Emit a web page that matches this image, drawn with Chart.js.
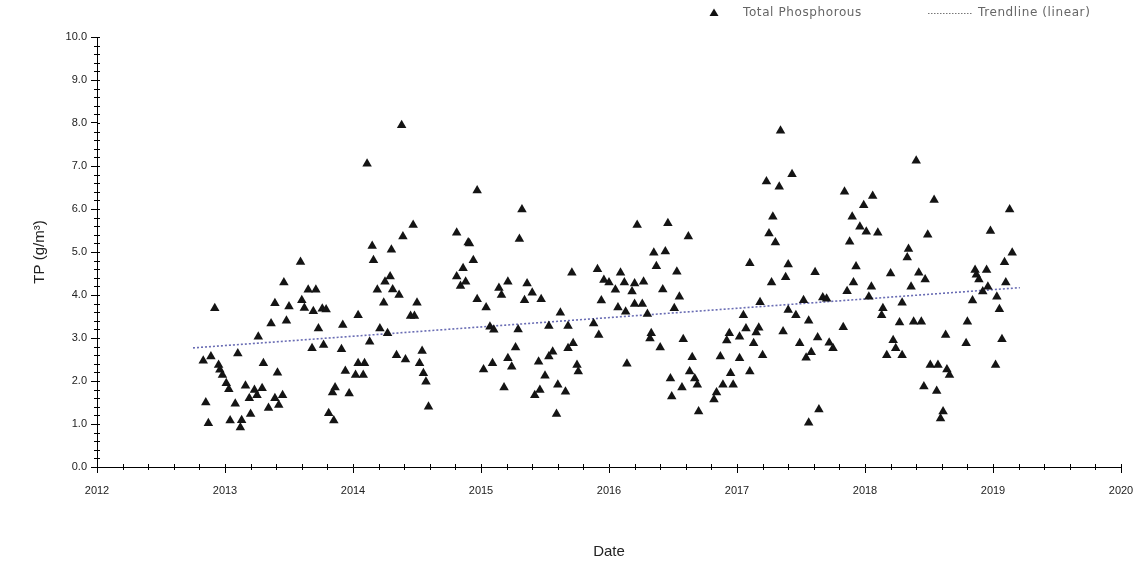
<!DOCTYPE html>
<html>
<head>
<meta charset="utf-8">
<script src="https://cdn.jsdelivr.net/npm/chart.js@4.4.0/dist/chart.umd.min.js"></script>
<style>
  html, body { margin: 0; padding: 0; background: #fff; }
  #wrap { width: 1139px; height: 572px; }
</style>
</head>
<body>
<div id="wrap"><canvas id="tpChart" width="1139" height="572"></canvas></div>
<script>
// sample dates (decimal years) and total phosphorous values
var tpDates = [
  2013.59, 2013.46, 2013.65, 2013.71, 2012.92, 2013.39, 2013.50, 2013.60, 2013.62, 2013.69,
  2013.76, 2013.79, 2013.36, 2013.48, 2013.73, 2013.92, 2014.04, 2013.26, 2013.10, 2013.68,
  2013.77, 2013.91, 2012.83, 2012.89, 2012.95, 2012.96, 2012.98, 2013.01, 2013.03, 2013.30,
  2013.41, 2013.94, 2014.02, 2014.04, 2013.16, 2013.23, 2013.29, 2013.19, 2013.25, 2013.39,
  2013.45, 2013.42, 2013.34, 2013.86, 2013.84, 2013.97, 2012.85, 2013.08, 2012.87, 2013.04,
  2013.13, 2013.20, 2013.12, 2013.81, 2013.85,
  2014.38, 2014.11, 2014.97, 2015.32, 2015.30, 2014.47, 2014.39, 2014.15, 2014.30, 2014.16,
  2014.81, 2014.90, 2014.91, 2014.94, 2014.86, 2014.81, 2014.88, 2014.84, 2014.29, 2014.25,
  2014.19, 2014.31, 2014.36, 2014.24, 2014.50, 2014.45, 2014.48, 2014.21, 2014.27, 2014.13,
  2014.97, 2015.04, 2015.14, 2015.16, 2015.21, 2015.36, 2015.34, 2015.07, 2015.10, 2015.29,
  2015.27, 2014.34, 2014.41, 2014.54, 2014.52, 2014.55, 2014.57, 2014.09, 2014.08, 2014.59,
  2015.21, 2015.24, 2015.09, 2015.02, 2015.18,
  2016.22, 2016.46, 2016.62, 2016.35, 2016.44, 2016.37, 2016.53, 2015.71, 2015.91, 2016.09,
  2015.96, 2016.00, 2016.05, 2016.12, 2016.20, 2016.27, 2016.18, 2016.42, 2016.55, 2015.40,
  2015.47, 2015.94, 2016.07, 2016.13, 2016.20, 2016.26, 2016.30, 2016.51, 2015.62, 2015.53,
  2015.68, 2015.88, 2015.92, 2016.33, 2016.32, 2016.40, 2016.58, 2015.72, 2015.68, 2015.56,
  2015.53, 2015.45, 2015.75, 2015.76, 2016.14, 2016.65, 2015.50, 2016.63, 2016.67, 2016.69,
  2016.48, 2016.57, 2016.49, 2015.60, 2015.66, 2015.46, 2015.42, 2015.59, 2016.70,
  2017.34, 2017.43, 2017.23, 2017.33, 2017.28, 2017.25, 2017.30, 2017.84, 2017.99, 2017.90,
  2017.96, 2018.01, 2017.88, 2017.10, 2017.40, 2017.38, 2017.27, 2017.61, 2017.93, 2017.91,
  2017.86, 2017.18, 2017.52, 2017.67, 2017.70, 2017.05, 2017.40, 2017.46, 2017.56, 2017.07,
  2017.17, 2017.15, 2017.02, 2016.94, 2016.92, 2017.13, 2017.36, 2017.83, 2017.49, 2017.63,
  2017.72, 2017.75, 2017.20, 2017.58, 2017.54, 2016.87, 2017.02, 2016.95, 2017.10, 2016.89,
  2016.97, 2016.84, 2016.82, 2017.64, 2017.56,
  2018.40, 2018.06, 2018.54, 2019.13, 2018.10, 2018.49, 2018.98, 2018.34, 2018.33, 2019.15,
  2019.09, 2018.20, 2018.42, 2018.47, 2018.86, 2018.95, 2018.89, 2018.87, 2018.36, 2018.05,
  2018.03, 2019.10, 2018.96, 2018.92, 2019.03, 2018.84, 2018.29, 2019.05, 2018.14, 2018.13,
  2018.27, 2018.38, 2018.44, 2018.80, 2018.63, 2018.79, 2019.07, 2018.22, 2018.24, 2018.17,
  2018.29, 2018.51, 2018.57, 2018.64, 2018.66, 2019.02, 2018.46, 2018.56, 2018.61, 2018.59
];
var tpValues = [
  4.77, 4.29, 4.12, 4.12, 3.69, 3.81, 3.73, 3.88, 3.70, 3.62,
  3.68, 3.66, 3.34, 3.40, 3.22, 3.30, 3.53, 3.03, 2.64, 2.76,
  2.84, 2.74, 2.47, 2.57, 2.37, 2.26, 2.14, 1.95, 1.81, 2.41,
  2.19, 2.23, 2.14, 2.41, 1.89, 1.79, 1.83, 1.60, 1.67, 1.60,
  1.67, 1.44, 1.37, 1.85, 1.73, 1.71, 1.50, 1.47, 1.02, 1.08,
  1.09, 1.23, 0.92, 1.25, 1.08,
  7.95, 7.05, 6.43, 5.99, 5.30, 5.63, 5.36, 5.14, 5.05, 4.81,
  5.45, 5.22, 5.20, 4.81, 4.62, 4.43, 4.31, 4.21, 4.43, 4.31,
  4.12, 4.13, 4.00, 3.82, 3.82, 3.51, 3.51, 3.22, 3.11, 2.91,
  3.90, 3.71, 4.16, 4.00, 4.31, 4.27, 3.88, 3.26, 3.19, 3.20,
  2.78, 2.60, 2.50, 2.70, 2.41, 2.18, 1.98, 2.41, 2.14, 1.40,
  2.53, 2.33, 2.41, 2.27, 1.85,
  5.63, 5.67, 5.36, 4.98, 5.01, 4.67, 4.54, 4.52, 4.60, 4.52,
  4.35, 4.29, 4.12, 4.29, 4.27, 4.31, 4.08, 4.13, 3.96, 4.05,
  3.90, 3.87, 3.71, 3.61, 3.79, 3.79, 3.56, 3.69, 3.59, 3.28,
  3.28, 3.34, 3.07, 3.11, 2.99, 2.78, 2.97, 2.88, 2.76, 2.68,
  2.57, 2.45, 2.37, 2.22, 2.40, 2.55, 2.12, 2.22, 2.06, 1.91,
  2.06, 1.85, 1.64, 1.91, 1.75, 1.79, 1.67, 1.23, 1.29,
  7.82, 6.81, 6.64, 6.52, 5.82, 5.43, 5.22, 6.40, 6.09, 5.82,
  5.59, 5.47, 5.24, 4.74, 4.71, 4.41, 4.29, 4.53, 4.66, 4.29,
  4.09, 3.83, 3.88, 3.94, 3.91, 3.53, 3.65, 3.53, 3.40, 3.22,
  3.24, 3.13, 3.03, 3.11, 2.94, 2.88, 3.15, 3.25, 2.88, 3.01,
  2.89, 2.76, 2.60, 2.67, 2.54, 2.57, 2.53, 2.18, 2.22, 1.91,
  1.91, 1.73, 1.57, 1.34, 1.03,
  7.12, 6.30, 6.21, 5.99, 5.45, 5.40, 5.49, 5.07, 4.87, 4.98,
  4.76, 4.50, 4.52, 4.36, 4.58, 4.58, 4.36, 4.47, 4.19, 4.19,
  3.96, 4.29, 4.19, 4.08, 3.96, 3.87, 3.82, 3.67, 3.69, 3.53,
  3.36, 3.38, 3.38, 3.38, 3.07, 2.88, 2.97, 2.95, 2.76, 2.60,
  2.60, 2.37, 2.37, 2.27, 2.14, 2.37, 1.87, 1.77, 1.29, 1.13
];

// linear trendline end points as drawn
var trendDates = [2012.75, 2019.21];
var trendValues = [2.77, 4.17];

var yearTicks = [2012, 2013, 2014, 2015, 2016, 2017, 2018, 2019, 2020];

var tickFont = { family: 'Liberation Sans, Arial, sans-serif', size: 11 };
var titleFont = { family: 'Liberation Sans, Arial, sans-serif', size: 15 };

// minor ticks on both axes + the small legend in the top right
var axisExtras = {
  id: 'axisExtras',
  afterDraw: function(chart) {
    var c = chart.ctx, xs = chart.scales.x, ys = chart.scales.y;
    var a = chart.chartArea;
    c.save();
    c.strokeStyle = '#000';
    c.lineWidth = 1;
    c.beginPath();
    for (var v = 0; v <= 10.0001; v += 0.2) {
      var py = Math.round(ys.getPixelForValue(v)) + 0.5;
      var major = Math.abs(v - Math.round(v)) < 1e-6;
      c.moveTo(a.left - (major ? 0 : 3), py);
      c.lineTo(a.left + 3, py);
    }
    for (var t = 2012; t <= 2020.0001; t += 0.2) {
      var px = Math.round(xs.getPixelForValue(t)) + 0.5;
      var maj = Math.abs(t - Math.round(t)) < 1e-6;
      c.moveTo(px, a.bottom - 3);
      c.lineTo(px, a.bottom + (maj ? 0 : 3));
    }
    c.stroke();

    // legend
    var ly = 13;
    c.fillStyle = '#111';
    c.beginPath();
    c.moveTo(714, ly - 4.5);
    c.lineTo(718.5, ly + 3);
    c.lineTo(709.5, ly + 3);
    c.closePath();
    c.fill();
    c.font = '12px "DejaVu Sans", sans-serif';
    c.letterSpacing = '0.6px';
    c.fillStyle = '#666';
    c.textBaseline = 'middle';
    c.textAlign = 'left';
    c.fillText('Total Phosphorous', 743, ly);
    c.strokeStyle = '#777';
    c.setLineDash([1.5, 1.5]);
    c.beginPath();
    c.moveTo(928, ly + 0.5);
    c.lineTo(973, ly + 0.5);
    c.stroke();
    c.setLineDash([]);
    c.fillText('Trendline (linear)', 978, ly);
    c.restore();
  }
};

var ctx = document.getElementById('tpChart').getContext('2d');
var tpChart = new Chart(ctx, {
  type: 'scatter',
  data: {
    datasets: [{
      label: 'Total Phosphorous',
      data: tpDates.map(function(d, i) { return { x: d, y: tpValues[i] }; }),
      pointStyle: 'triangle',
      pointRadius: 5.5,
      pointHoverRadius: 5.5,
      backgroundColor: '#141414',
      borderColor: '#141414',
      borderWidth: 0,
      order: 1
    }, {
      type: 'line',
      label: 'Trendline (linear)',
      data: trendDates.map(function(d, i) { return { x: d, y: trendValues[i] }; }),
      borderColor: '#6a6db4',
      borderWidth: 1.6,
      borderDash: [2, 2],
      pointRadius: 0,
      fill: false,
      order: 2
    }]
  },
  options: {
    responsive: false,
    animation: false,
    layout: { padding: { top: 37, right: 18, left: 0, bottom: 0 } },
    plugins: {
      legend: { display: false },
      tooltip: { enabled: false }
    },
    scales: {
      x: {
        type: 'linear',
        min: 2012,
        max: 2020,
        afterBuildTicks: function(scale) {
          scale.ticks = yearTicks.map(function(y) { return { value: y }; });
        },
        afterFit: function(scale) {
          scale.height = 105;
          scale.paddingLeft = 0;
          scale.paddingRight = 0;
        },
        ticks: {
          font: tickFont,
          color: '#222',
          padding: 11,
          maxRotation: 0,
          autoSkip: false,
          callback: function(v) { return String(v); }
        },
        grid: { drawOnChartArea: false, tickLength: 6, color: '#000' },
        border: { color: '#000', width: 1 },
        title: { display: true, text: 'Date', font: titleFont, color: '#222', padding: { top: 0, bottom: 11 } }
      },
      y: {
        min: 0,
        max: 10,
        afterFit: function(scale) { scale.width = 97; },
        ticks: {
          stepSize: 1,
          font: tickFont,
          color: '#222',
          padding: 4,
          callback: function(v) { return v.toFixed(1); }
        },
        grid: { drawOnChartArea: false, tickLength: 6, color: '#000' },
        border: { color: '#000', width: 1 },
        title: { display: true, text: 'TP (g/m³)', font: titleFont, color: '#222', padding: { top: 31, bottom: 0 } }
      }
    }
  },
  plugins: [axisExtras]
});
</script>
</body>
</html>
